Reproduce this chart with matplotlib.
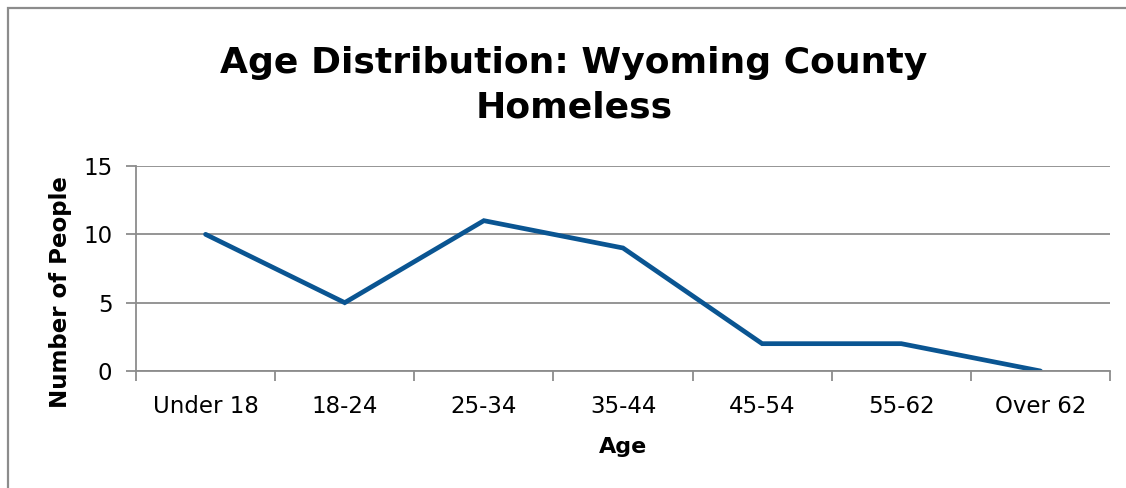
import numpy as np
import matplotlib.pyplot as plt
from matplotlib.patches import Rectangle

# age groups and counts
age_groups = ["Under 18", "18-24", "25-34", "35-44", "45-54", "55-62", "Over 62"]
people = [10, 5, 11, 9, 2, 2, 0]
y_ticks = [0, 5, 10, 15]

plt.rcParams["font.family"] = ["DejaVu Sans"]

W, H = 1126, 488
fig = plt.figure(figsize=(W / 100, H / 100), dpi=100)
ax = fig.add_axes([136 / W, 1 - 371 / H, (1110 - 136) / W, (371 - 166) / H])

# outer chart frame (cut off at right and bottom)
fig.patches.append(Rectangle((8 / W, -0.1), 1.2, 1 - 8 / H + 0.1,
                             transform=fig.transFigure, fill=False,
                             edgecolor="#8c8c8c", linewidth=1.6))

x = np.arange(len(age_groups))
ax.plot(x, people, color="#0a5592", linewidth=3.4, solid_capstyle="round",
        solid_joinstyle="miter")

ax.set_xlim(-0.5, len(age_groups) - 0.5)
ax.set_ylim(0, 15)
ax.set_yticks(y_ticks)
ax.set_xticks(x)
ax.set_xticklabels(age_groups)
ax.set_xticks(np.arange(-0.5, len(age_groups)), minor=True)
ax.tick_params(axis="x", which="major", length=0, pad=17, labelsize=16.5)
ax.tick_params(axis="x", which="minor", length=7, width=1.3, color="#8c8c8c")
ax.tick_params(axis="y", length=7, width=1.3, color="#8c8c8c", labelsize=16.5, pad=10)

ax.grid(axis="y", color="#8c8c8c", linewidth=1.3)
ax.set_axisbelow(True)
for s in ["top", "right"]:
    ax.spines[s].set_visible(False)
for s in ["left", "bottom"]:
    ax.spines[s].set_color("#8c8c8c")
    ax.spines[s].set_linewidth(1.3)

ax.set_xlabel("Age", fontsize=16, fontweight="bold", labelpad=14)
ax.set_ylabel("Number of People", fontsize=16.5, fontweight="bold")
ax.yaxis.set_label_coords(-0.066, 0.385)

fig.text(574 / W, 1 - 85 / H, "Age Distribution: Wyoming County\nHomeless",
         ha="center", va="center", fontsize=26, fontweight="bold",
         linespacing=1.38)

fig.savefig("out.png", dpi=100)
